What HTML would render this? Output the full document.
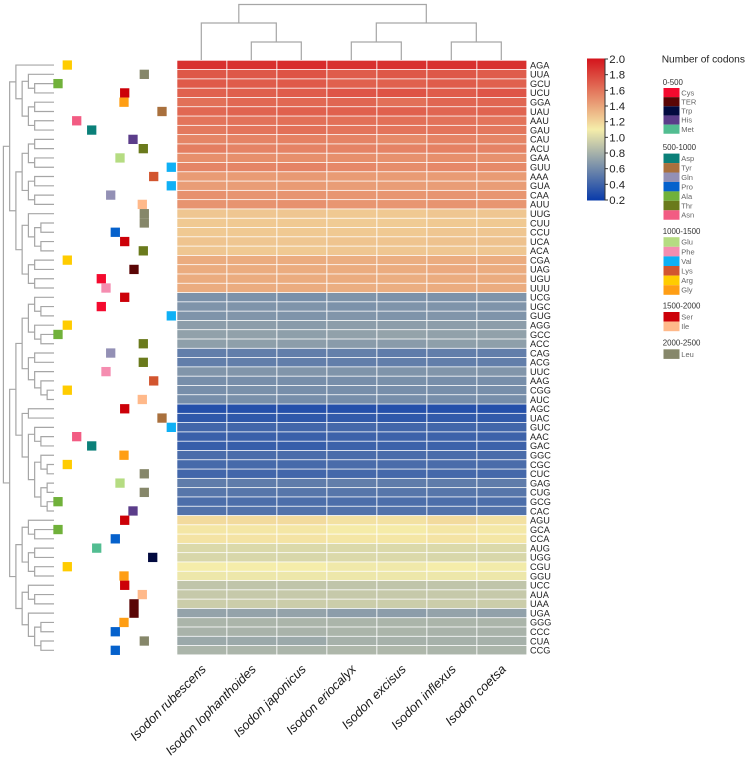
<!DOCTYPE html>
<html lang="en">
<head>
<meta charset="utf-8">
<title>Codon usage heatmap</title>
<style>
  html, body { margin: 0; padding: 0; background: #fff; }
  svg { display: block; font-family: "Liberation Sans", Arial, sans-serif; }
</style>
</head>
<body>
<svg id="chart" xmlns="http://www.w3.org/2000/svg" width="748" height="759" viewBox="0 0 748 759"></svg>
<script>
const species = ["Isodon rubescens","Isodon lophanthoides","Isodon japonicus","Isodon eriocalyx","Isodon excisus","Isodon inflexus","Isodon coetsa"];
const codons = ["AGA","UUA","GCU","UCU","GGA","UAU","AAU","GAU","CAU","ACU","GAA","GUU","AAA","GUA","CAA","AUU","UUG","CUU","CCU","UCA","ACA","CGA","UAG","UGU","UUU","UCG","UGC","GUG","AGG","GCC","ACC","CAG","ACG","UUC","AAG","CGG","AUC","AGC","UAC","GUC","AAC","GAC","GGC","CGC","CUC","GAG","CUG","GCG","CAC","AGU","GCA","CCA","AUG","UGG","CGU","GGU","UCC","AUA","UAA","UGA","GGG","CCC","CUA","CCG"];
const aminoAcids = ["Arg","Leu","Ala","Ser","Gly","Tyr","Asn","Asp","His","Thr","Glu","Val","Lys","Val","Gln","Ile","Leu","Leu","Pro","Ser","Thr","Arg","TER","Cys","Phe","Ser","Cys","Val","Arg","Ala","Thr","Gln","Thr","Phe","Lys","Arg","Ile","Ser","Tyr","Val","Asn","Asp","Gly","Arg","Leu","Glu","Leu","Ala","His","Ser","Ala","Pro","Met","Trp","Arg","Gly","Ser","Ile","TER","TER","Gly","Pro","Leu","Pro"];
const rscu = [
[1.88,1.88,1.90,1.88,1.88,1.88,1.88],
[1.72,1.72,1.74,1.70,1.72,1.72,1.70],
[1.71,1.70,1.71,1.68,1.68,1.70,1.68],
[1.68,1.69,1.70,1.73,1.74,1.70,1.73],
[1.62,1.65,1.65,1.66,1.62,1.66,1.66],
[1.65,1.67,1.68,1.68,1.68,1.66,1.67],
[1.60,1.61,1.62,1.62,1.62,1.61,1.60],
[1.58,1.60,1.62,1.60,1.60,1.60,1.59],
[1.53,1.54,1.55,1.54,1.51,1.54,1.53],
[1.56,1.54,1.54,1.54,1.54,1.55,1.54],
[1.49,1.49,1.49,1.49,1.48,1.49,1.48],
[1.53,1.53,1.54,1.52,1.50,1.52,1.51],
[1.44,1.44,1.45,1.44,1.44,1.44,1.44],
[1.43,1.43,1.44,1.43,1.43,1.43,1.43],
[1.48,1.47,1.47,1.46,1.46,1.47,1.46],
[1.47,1.47,1.48,1.46,1.46,1.47,1.46],
[1.26,1.26,1.26,1.25,1.25,1.26,1.26],
[1.25,1.25,1.25,1.24,1.24,1.25,1.25],
[1.25,1.25,1.25,1.25,1.25,1.26,1.26],
[1.27,1.26,1.26,1.27,1.27,1.28,1.28],
[1.26,1.25,1.25,1.26,1.26,1.26,1.26],
[1.37,1.37,1.37,1.36,1.36,1.37,1.37],
[1.37,1.37,1.37,1.37,1.37,1.38,1.37],
[1.37,1.37,1.37,1.37,1.36,1.37,1.37],
[1.37,1.37,1.37,1.36,1.36,1.37,1.37],
[0.64,0.64,0.63,0.65,0.64,0.64,0.65],
[0.65,0.65,0.65,0.64,0.65,0.65,0.65],
[0.65,0.66,0.65,0.66,0.65,0.66,0.65],
[0.70,0.70,0.69,0.70,0.70,0.70,0.70],
[0.72,0.72,0.71,0.72,0.73,0.72,0.72],
[0.71,0.71,0.70,0.69,0.69,0.71,0.71],
[0.54,0.54,0.54,0.55,0.53,0.54,0.54],
[0.54,0.54,0.54,0.54,0.54,0.54,0.54],
[0.66,0.66,0.66,0.65,0.65,0.66,0.66],
[0.62,0.62,0.62,0.62,0.63,0.62,0.62],
[0.62,0.63,0.62,0.62,0.62,0.62,0.62],
[0.62,0.63,0.62,0.62,0.62,0.62,0.62],
[0.31,0.31,0.31,0.31,0.31,0.31,0.31],
[0.35,0.35,0.35,0.36,0.35,0.36,0.36],
[0.42,0.42,0.42,0.43,0.42,0.42,0.42],
[0.39,0.39,0.39,0.40,0.40,0.40,0.40],
[0.38,0.38,0.38,0.40,0.40,0.40,0.40],
[0.45,0.45,0.45,0.45,0.45,0.45,0.45],
[0.44,0.44,0.44,0.45,0.45,0.45,0.45],
[0.42,0.42,0.42,0.43,0.43,0.43,0.43],
[0.53,0.53,0.53,0.54,0.53,0.53,0.53],
[0.50,0.50,0.50,0.50,0.50,0.50,0.50],
[0.46,0.46,0.46,0.46,0.46,0.46,0.46],
[0.48,0.48,0.48,0.48,0.48,0.48,0.48],
[1.18,1.18,1.18,1.15,1.15,1.18,1.15],
[1.13,1.13,1.13,1.11,1.11,1.13,1.12],
[1.14,1.14,1.14,1.13,1.13,1.14,1.13],
[1.00,1.00,1.00,1.00,1.00,1.00,1.00],
[0.99,0.99,0.99,1.00,1.00,0.99,0.99],
[1.10,1.10,1.10,1.08,1.08,1.10,1.09],
[1.07,1.07,1.07,1.07,1.07,1.07,1.07],
[0.90,0.90,0.90,0.90,0.90,0.90,0.90],
[0.92,0.92,0.92,0.92,0.92,0.92,0.92],
[0.94,0.94,0.94,0.94,0.94,0.94,0.94],
[0.73,0.73,0.73,0.70,0.70,0.73,0.72],
[0.82,0.82,0.82,0.82,0.82,0.82,0.82],
[0.81,0.81,0.81,0.82,0.82,0.81,0.81],
[0.76,0.76,0.76,0.80,0.80,0.80,0.80],
[0.82,0.82,0.82,0.83,0.83,0.82,0.82]
];
const colorbarTicks = ["0.2","0.4","0.6","0.8","1.0","1.2","1.4","1.6","1.8","2.0"];
const legendGroups = ["0-500","500-1000","1000-1500","1500-2000","2000-2500"];
const legendMembers = [["Cys","TER","Trp","His","Met"],["Asp","Tyr","Gln","Pro","Ala","Thr","Asn"],["Glu","Phe","Val","Lys","Arg","Gly"],["Ser","Ile"],["Leu"]];
</script>
<script>
/* Row dendrogram structure: node = [level, childA, childB], a bare number is a row index */
const rowDendrogram = [0,
  [1,
    [2, 0,
      [3,
        [4, 1, [5, 2, 3]],
        [4, [5, 4, 5], [5, 6, 7]]]],
    [2,
      [3,
        [4, [5, 8, 9], [5, 10, 11]],
        [4, [5, 12, 13], [5, 14, 15]]],
      [3,
        [4, 16, [5, [6, 17, 18], [6, 19, 20]]],
        [4, [5, 21, 22], [5, 23, 24]]]]],
  [1,
    [2,
      [3,
        [4,
          [5, 25, [6, 26, 27]],
          [5, 28, [6, 29, 30]]],
        [4,
          [5, 31, 32],
          [5, 33, [6, 34, [7, 35, 36]]]]],
      [3,
        [4, 37, 38],
        [4,
          [5, 39, [6, 40, 41]],
          [5,
            [6, 42, [7, 43, 44]],
            [6, [7, 45, 46], [7, 47, 48]]]]]],
    [2,
      [3,
        [4, 49, [5, 50, 51]],
        [4, [5, 52, 53], [5, 54, 55]]],
      [3,
        [4, 56, [5, 57, 58]],
        [4, 59, [5, [6, 60, 61], [6, 62, 63]]]]]]];
const colDendrogram = [0,
  [1, 0, [2, 1, 2]],
  [1, [2, 3, 4], [2, 5, 6]]];

const NS = "http://www.w3.org/2000/svg";
const svg = document.getElementById("chart");

function make(tag, attrs, parent) {
  const el = document.createElementNS(NS, tag);
  for (const k in attrs) el.setAttribute(k, attrs[k]);
  (parent || svg).appendChild(el);
  return el;
}

/* Axis functions */
const heatLeft = 177, heatTop = 60.4, colStep = 50, rowStep = 9.29;
function xCol(j) { return heatLeft + colStep * j; }
function yRow(i) { return heatTop + rowStep * i; }
function rowCenter(i) { return yRow(i) + rowStep / 2; }
function colCenter(j) { return xCol(j) + colStep / 2 - 0.7; }

const stopLow = [8, 58, 170], stopMid = [245, 237, 170], stopHigh = [212, 20, 28];
function colorOf(v) {
  let a, b, t;
  if (v <= 1.1) { a = stopLow; b = stopMid; t = (v - 0.2) / 0.9; }
  else { a = stopMid; b = stopHigh; t = (v - 1.1) / 0.9; }
  t = Math.max(0, Math.min(1, t));
  return "rgb(" + a.map((c, k) => Math.round(c + (b[k] - c) * t)).join(",") + ")";
}

function aminoX(aa) {
  const scale = {Ala:58,Arg:67.3,Asn:76.7,Asp:91.7,Met:96.7,Cys:101.3,Phe:106,Gln:110.7,Pro:115.3,Glu:120,Gly:124,Ser:124.7,His:133,TER:134,Ile:142.3,Thr:143.3,Leu:144.3,Trp:152.7,Lys:153.7,Tyr:162,Val:171.3};
  return scale[aa];
}
function aminoColor(aa) {
  const palette = {Cys:"#f40a2e",TER:"#5a0505",Trp:"#020a3f",His:"#5b3d8a",Met:"#52bd91",Asp:"#0b8079",Tyr:"#a9703d",Gln:"#9390b5",Pro:"#0561cc",Ala:"#70b13a",Thr:"#6a7a1c",Asn:"#f25c83",Glu:"#b5dc82",Phe:"#f58db0",Val:"#0fb0f5",Lys:"#d2552f",Arg:"#ffcc00",Gly:"#ff9e14",Ser:"#cc0008",Ile:"#ffb98a",Leu:"#86876a"};
  return palette[aa];
}

/* Heatmap cells */
const heatGroup = make("g", {});


rscu.forEach((row, i) => {
  row.forEach((v, j) => {
    const cell = make("rect", {x: xCol(j) + 0.3, y: yRow(i) + 0.3, width: colStep - 0.9, height: rowStep - 0.8, fill: colorOf(v)}, heatGroup);
    
    
  });
});

/* Codon labels */
codons.forEach((c, i) => {
  const t = make("text", {x: 530, y: rowCenter(i) + 3.3, "font-size": 9.2, fill: "#222"});
  t.textContent = c;
  
  
});

/* Species labels */
species.forEach((s, j) => {
  const x = colCenter(j) + 5.5, y = 670;
  const t = make("text", {x: x, y: y, "font-size": 12.8, "font-style": "italic", "text-anchor": "end", fill: "#1a1a1a", transform: "rotate(-45 " + x + " " + y + ")"});
  t.textContent = s;
  
  
});

/* Row dendrogram */
const rowLevelX = lvl => 3.4 + lvl * 6.25;
const leafX = 54;
const dendroStyle = {fill: "none", stroke: "#a6a6a6", "stroke-width": 1.2};
const rowDendroGroup = make("g", dendroStyle);


function drawRowNode(n) {
  if (typeof n === "number") return {x: leafX, y: rowCenter(n)};
  const a = drawRowNode(n[1]), b = drawRowNode(n[2]);
  const x = rowLevelX(n[0]);
  const branch = make("path", {d: "M" + a.x + " " + a.y + "H" + x + "V" + b.y + "H" + b.x}, rowDendroGroup);
  
  
  return {x: x, y: (a.y + b.y) / 2};
}
drawRowNode(rowDendrogram);

/* Column dendrogram */
const colLevelY = [4.5, 23, 42];
const colDendroGroup = make("g", dendroStyle);


function drawColNode(n) {
  if (typeof n === "number") return {x: xCol(n) + 24.3, y: 60};
  const a = drawColNode(n[1]), b = drawColNode(n[2]);
  const y = colLevelY[n[0]];
  const branch = make("path", {d: "M" + a.x + " " + a.y + "V" + y + "H" + b.x + "V" + b.y}, colDendroGroup);
  
  
  return {x: (a.x + b.x) / 2, y: y};
}
drawColNode(colDendrogram);

/* Amino-acid markers */
const markerSize = 9.3;
aminoAcids.forEach((aa, i) => {
  const m = make("rect", {x: aminoX(aa) - markerSize / 2, y: rowCenter(i) - markerSize / 2, width: markerSize, height: markerSize, fill: aminoColor(aa)});
  
  
});

/* Colorbar */
const barGroup = make("g", {});


const barTop = 59, barBottom = 200;
const barY = v => barTop + (2 - v) / 1.8 * (barBottom - barTop);
const defs = make("defs", {});
const grad = make("linearGradient", {id: "barGrad", x1: 0, y1: 1, x2: 0, y2: 0}, defs);
make("stop", {offset: "0", "stop-color": colorOf(0.2)}, grad);
make("stop", {offset: "0.5", "stop-color": colorOf(1.1)}, grad);
make("stop", {offset: "1", "stop-color": colorOf(2.0)}, grad);
make("rect", {x: 587, y: barTop - 0.5, width: 18, height: barBottom - barTop + 1, fill: "url(#barGrad)"}, barGroup);
make("line", {x1: 605, x2: 605, y1: barTop - 0.5, y2: barBottom + 0.5, stroke: "#333", "stroke-width": 1}, barGroup);
colorbarTicks.forEach(lbl => {
  const y = barY(parseFloat(lbl));
  const tick = make("line", {x1: 605, x2: 608, y1: y, y2: y, stroke: "#333", "stroke-width": 1}, barGroup);
  
  
  const t = make("text", {x: 609.3, y: y + 4, "font-size": 11.4, fill: "#222"}, barGroup);
  t.textContent = lbl;
  
  
});

/* Legend */
const legendGroup = make("g", {});


const legendTitle = make("text", {x: 661.7, y: 62.6, "font-size": 10.2, fill: "#222"}, legendGroup);
legendTitle.textContent = "Number of codons";


const groupHeaderY = i => [82.3, 147.3, 231.3, 305.7, 342.7][i];
const swatchStartY = i => [88, 153.6, 237.2, 312, 349.3][i];
const swatchStep = i => [9.15, 9.45, 9.6, 9.6, 9.6][i];
legendGroups.forEach((g, gi) => {
  const h = make("text", {x: 662.7, y: groupHeaderY(gi) + 2.8, "font-size": 7.9, fill: "#333"}, legendGroup);
  h.textContent = g;
  
  
  legendMembers[gi].forEach((aa, k) => {
    const y = swatchStartY(gi) + k * swatchStep(gi);
    const sw = make("rect", {x: 663.5, y: y, width: 16, height: swatchStep(gi), fill: aminoColor(aa)}, legendGroup);
    
    
    const t = make("text", {x: 681.3, y: y + swatchStep(gi) / 2 + 2.7, "font-size": 7.5, fill: "#666"}, legendGroup);
    t.textContent = aa;
    
    
  });
});
</script>
</body>
</html>
